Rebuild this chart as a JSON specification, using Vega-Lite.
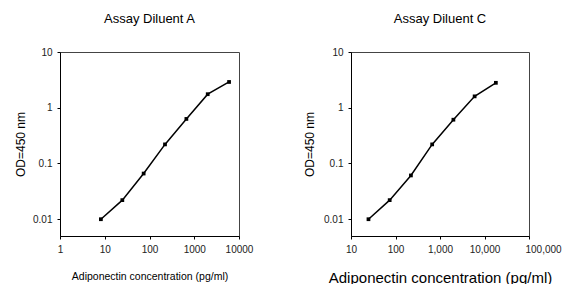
{
  "$schema": "https://vega.github.io/schema/vega-lite/v6.json",
  "padding": {"left": 14, "top": 12, "right": 0, "bottom": 0},
  "background": "white",
  "bounds": "flush",
  "spacing": 112,
  "config": {
    "font": "Liberation Sans",
    "view": {"stroke": "#444", "strokeWidth": 1},
    "axis": {
      "grid": false, "domainColor": "#000", "tickColor": "#000", "tickSize": 3,
      "labelColor": "#222", "titleColor": "#000", "labelFontSize": 10,
      "titleFontWeight": "normal", "labelOverlap": false, "labelFlush": false
    },
    "title": {"fontWeight": "normal", "fontSize": 13, "color": "#000"}
  },
  "datasets": {
    "a": [
      {"conc": 8.2, "od": 0.01}, {"conc": 24.7, "od": 0.022}, {"conc": 74, "od": 0.066},
      {"conc": 222, "od": 0.22}, {"conc": 667, "od": 0.63}, {"conc": 2000, "od": 1.75},
      {"conc": 6000, "od": 2.9}
    ],
    "c": [
      {"conc": 24.7, "od": 0.01}, {"conc": 74, "od": 0.022}, {"conc": 222, "od": 0.061},
      {"conc": 667, "od": 0.22}, {"conc": 2000, "od": 0.61}, {"conc": 6000, "od": 1.6},
      {"conc": 18000, "od": 2.8}
    ]
  },
  "hconcat": [
    {
      "width": 179, "height": 184,
      "title": {"text": "Assay Diluent A", "offset": 21},
      "data": {"name": "a"},
      "encoding": {
        "x": {"field": "conc", "type": "quantitative",
          "scale": {"type": "log", "domain": [1, 10000], "nice": false},
          "axis": {"values": [1, 10, 100, 1000, 10000], "format": "d", "title": "Adiponectin concentration (pg/ml)", "titleFontSize": 10.5, "titlePadding": 17, "labelPadding": 5}},
        "y": {"field": "od", "type": "quantitative",
          "scale": {"type": "log", "domain": [0.005, 10], "nice": false},
          "axis": {"values": [0.01, 0.1, 1, 10], "format": "~g", "title": "OD=450 nm", "titleFontSize": 12, "titlePadding": 5, "labelPadding": 5}}
      },
      "layer": [
        {"mark": {"type": "line", "color": "#000", "strokeWidth": 1.5}},
        {"mark": {"type": "point", "shape": "square", "filled": true, "color": "#000", "size": 14, "opacity": 1}}
      ]
    },
    {
      "width": 178, "height": 184,
      "title": {"text": "Assay Diluent C", "offset": 21},
      "data": {"name": "c"},
      "encoding": {
        "x": {"field": "conc", "type": "quantitative",
          "scale": {"type": "log", "domain": [10, 100000], "nice": false},
          "axis": {"values": [10, 100, 1000, 10000, 100000], "format": ",", "title": "Adiponectin concentration (pg/ml)", "titleFontSize": 15, "titlePadding": 16, "labelPadding": 5,
            "labelAlign": {"expr": "datum.value >= 100000 ? 'left' : 'center'"},
            "labelOffset": {"expr": "datum.value >= 100000 ? -4 : 0"}}},
        "y": {"field": "od", "type": "quantitative",
          "scale": {"type": "log", "domain": [0.005, 10], "nice": false},
          "axis": {"values": [0.01, 0.1, 1, 10], "format": "~g", "title": "OD=450 nm", "titleFontSize": 12, "titlePadding": 7, "labelPadding": 5}}
      },
      "layer": [
        {"mark": {"type": "line", "color": "#000", "strokeWidth": 1.5}},
        {"mark": {"type": "point", "shape": "square", "filled": true, "color": "#000", "size": 14, "opacity": 1}}
      ]
    }
  ]
}
